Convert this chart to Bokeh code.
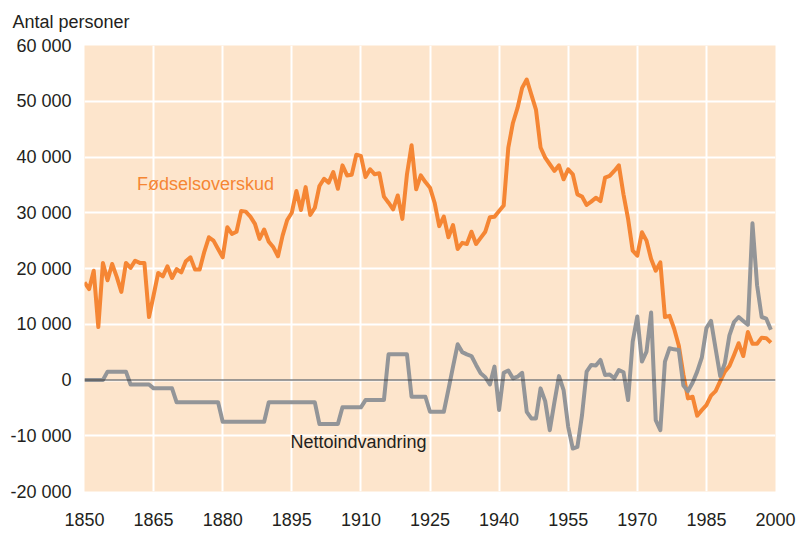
from bokeh.plotting import figure
from bokeh.models import Range1d, FixedTicker, Span, Label
from bokeh.embed import file_html
from bokeh.resources import INLINE

# ---------------- data ----------------
years = list(range(1850, 2000))

# Fødselsoverskud (birth surplus), persons
birth_surplus = [
    17500, 16300, 19600, 9500, 21000, 17900, 20800, 18500, 15800, 21000,   # 1850-59
    20100, 21400, 21000, 21000, 11300, 15200, 19200, 18600, 20400, 18300,  # 1860-69
    19900, 19300, 21300, 22000, 19800, 19800, 23000, 25600, 25000, 23500,  # 1870-79
    22000, 27400, 26200, 26600, 30300, 30200, 29300, 28000, 25300, 27000,  # 1880-89
    24800, 23800, 22200, 25900, 28700, 30000, 33900, 30500, 34600, 29600,  # 1890-99
    30900, 34800, 36100, 35400, 37300, 34300, 38500, 36700, 36800, 40400,  # 1900-09
    40200, 36400, 37800, 36900, 37100, 32900, 31800, 30600, 33100, 28900,  # 1910-19
    36900, 42100, 34200, 36700, 35500, 34500, 31800, 27600, 29300, 25600,  # 1920-29
    27800, 23500, 24600, 24400, 26600, 24400, 25500, 26600, 29200, 29300,  # 1930-39
    30300, 31300, 41700, 46100, 48800, 52400, 53900, 51200, 48500, 41700,  # 1940-49
    39900, 38700, 37500, 38500, 36000, 37800, 36900, 33300, 32900, 31400,  # 1950-59
    32000, 32700, 32100, 36300, 36600, 37500, 38500, 33300, 28900, 23200,  # 1960-69
    22300, 26500, 25000, 21700, 19600, 21100, 11300, 11500, 9200, 6200,    # 1970-79
    1000, -3300, -3000, -6400, -5400, -4500, -2800, -2000, -200, 1500,     # 1980-89
    2500, 4500, 6600, 4300, 8600, 6500, 6500, 7600, 7500, 6700,            # 1990-99
]

# Nettoindvandring (net immigration), persons
net_immigration = [
    0, 0, 0, 0, 0, 1500, 1500, 1500, 1500, 1500,                           # 1850-59
    -800, -800, -800, -800, -800, -1500, -1500, -1500, -1500, -1500,       # 1860-69
    -4000, -4000, -4000, -4000, -4000, -4000, -4000, -4000, -4000, -4000,  # 1870-79
    -7500, -7500, -7500, -7500, -7500, -7500, -7500, -7500, -7500, -7500,  # 1880-89
    -4000, -4000, -4000, -4000, -4000, -4000, -4000, -4000, -4000, -4000,  # 1890-99
    -4000, -7900, -7900, -7900, -7900, -7900, -4900, -4900, -4900, -4900,  # 1900-09
    -4900, -3600, -3600, -3600, -3600, -3600, 4600, 4600, 4600, 4600,      # 1910-19
    4600, -3000, -3000, -3000, -3000, -5700, -5700, -5700, -5700, -1700,   # 1920-29
    2400, 6400, 5000, 4600, 4300, 2700, 1200, 500, -800, 2400,             # 1930-39
    -5400, 1300, 1700, 300, 600, 1300, -5700, -6900, -6900, -1500,         # 1940-49
    -3800, -9000, -4000, 700, -1800, -8400, -12300, -12000, -6300, 1500,   # 1950-59
    2700, 2600, 3600, 900, 1000, 300, 1800, 1400, -3600, 6900,             # 1960-69
    11400, 3300, 5100, 12100, -7200, -9000, 3300, 5700, 5500, 5400,        # 1970-79
    -1000, -2000, -500, 1500, 4000, 9300, 10600, 5600, 700, 3000,          # 1980-89
    8000, 10400, 11300, 10600, 9900, 28100, 17000, 11300, 11000, 9000,     # 1990-99
]

x_ticks = [1850, 1865, 1880, 1895, 1910, 1925, 1940, 1955, 1970, 1985, 2000]
y_ticks = [-20000, -10000, 0, 10000, 20000, 30000, 40000, 50000, 60000]
y_tick_labels = ["-20 000", "-10 000", "0", "10 000", "20 000", "30 000",
                 "40 000", "50 000", "60 000"]

y_axis_title = "Antal personer"
label_birth = "Fødselsoverskud"
label_net = "Nettoindvandring"

# ---------------- style ----------------
FONT = "Liberation Sans"
TXT = "#231F20"
ORANGE = "#F58634"
GREY = "#939598"
BG = "#FDE5CC"

p = figure(
    frame_width=691, frame_height=446,
    x_range=Range1d(1850, 2000), y_range=Range1d(-20000, 60000),
    output_backend="svg", toolbar_location=None,
    min_border_left=84, min_border_right=21, min_border_top=45, min_border_bottom=40,
    background_fill_color=BG, border_fill_color="white",
    outline_line_color=None,
)

p.title.text = y_axis_title
p.title.align = "left"
p.title.offset = -72
p.title.vertical_align = "top"
p.title.standoff = 23
p.title.text_font = FONT
p.title.text_font_size = "18px"
p.title.text_font_style = "normal"
p.title.text_color = TXT

p.xaxis.ticker = FixedTicker(ticks=x_ticks)
p.yaxis.ticker = FixedTicker(ticks=y_ticks)
p.yaxis.major_label_overrides = {t: l for t, l in zip(y_ticks, y_tick_labels)}

for ax in (p.xaxis[0], p.yaxis[0]):
    ax.axis_line_color = None
    ax.major_tick_line_color = None
    ax.minor_tick_line_color = None
    ax.major_label_text_font = FONT
    ax.major_label_text_font_size = "18px"
    ax.major_label_text_color = TXT
p.yaxis.major_label_standoff = 7
p.xaxis.major_label_standoff = 15

p.grid.grid_line_color = "white"
p.grid.grid_line_width = 2
p.xgrid.ticker = FixedTicker(ticks=x_ticks)
p.ygrid.ticker = FixedTicker(ticks=y_ticks)

p.add_layout(Span(location=0, dimension="width", line_color="#3C3C3C", line_width=1))

p.line(years, birth_surplus, line_color=ORANGE, line_width=4, line_join="round")
p.line(years, net_immigration, line_color=GREY, line_width=4, line_join="round")

p.add_layout(Label(x=1861.4, y=35100, text=label_birth,
                   text_font=FONT, text_font_size="18px", text_color=ORANGE,
                   text_baseline="alphabetic", text_align="left"))
p.add_layout(Label(x=1894.7, y=-11200, text=label_net,
                   text_font=FONT, text_font_size="18px", text_color=TXT,
                   text_baseline="alphabetic", text_align="left"))

open("out.html", "w").write(file_html(p, INLINE))
